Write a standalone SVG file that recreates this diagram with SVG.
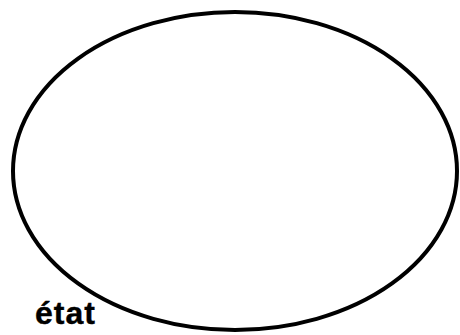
<svg xmlns="http://www.w3.org/2000/svg" width="460" height="335" viewBox="0 0 460 335">
<style>
.state{fill:#fff;stroke:#000;stroke-width:4}
.lbl{font-family:"Liberation Sans",Arial,sans-serif;font-weight:bold;font-size:32px;letter-spacing:1px;fill:#000;stroke:#000;stroke-width:0.4}
</style>
<rect width="460" height="335" fill="#fff"/>
<g id="etat">
<ellipse class="state" cx="235" cy="171" rx="222" ry="159"/>
<text class="lbl" x="35" y="324">état</text>
</g>
<g id="connectors"/>
</svg>
